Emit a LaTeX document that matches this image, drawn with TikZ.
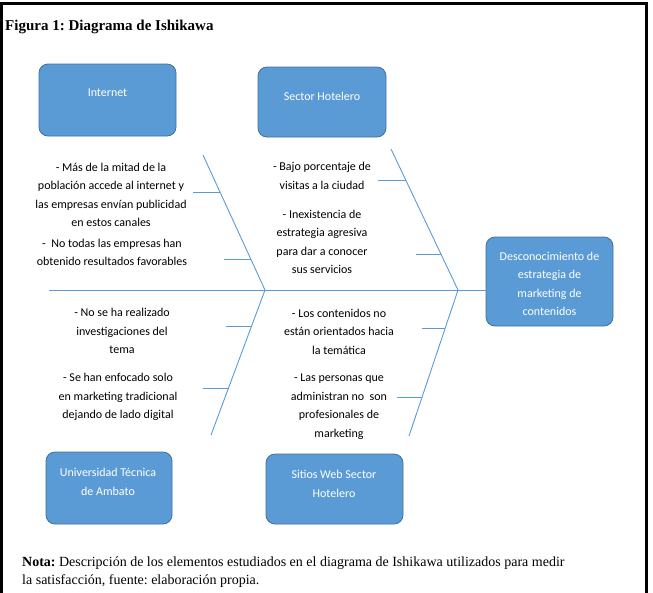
\documentclass[tikz,border=0pt]{standalone}
\usepackage{fontspec}
\setmainfont{Liberation Serif}
\newfontfamily\calfont{Carlito}
\definecolor{boxblue}{HTML}{5B9BD5}
\definecolor{boxedge}{HTML}{41719C}
\definecolor{bonecol}{HTML}{5B9BD5}
\frenchspacing
\begin{document}
\begin{tikzpicture}[x=1pt,y=-1pt,
  cbox/.style={draw=boxedge, fill=boxblue, rounded corners=9pt, line width=0.8pt, inner sep=0pt},
  ctext/.style={font=\calfont\fontsize{12}{18.5}\selectfont, align=center, text=black, inner sep=0pt},
  wtext/.style={font=\calfont\fontsize{12}{18.5}\selectfont, align=center, text=white, inner sep=0pt},
  boneline/.style={draw=bonecol, line width=0.9pt},
  frameline/.style={draw=black, line width=2.5pt},
]
\useasboundingbox (0,0) rectangle (653,592);
% frame
\draw[frameline] (1.5,600) -- (1.5,3.5) -- (646.5,3.5) -- (646.5,600);

% title
\node[anchor=west, inner sep=0pt, font=\bfseries\fontsize{15}{17}\selectfont] (title) at (5,27) {Figura 1: Diagrama de Ishikawa};

% category boxes
\node[cbox, minimum width=137pt, minimum height=72pt] (internet) at (107.5,100) {};
\node[wtext] (internetT) at (107.5,93) {Internet};
\node[cbox, minimum width=128pt, minimum height=70pt] (sector) at (322,102) {};
\node[wtext] (sectorT) at (322,96) {Sector Hotelero};
\node[cbox, minimum width=126pt, minimum height=72pt] (uta) at (109,488) {};
\node[wtext] (utaT) at (108,482) {Universidad Técnica\\de Ambato};
\node[cbox, minimum width=137pt, minimum height=70pt] (sitios) at (334.5,489) {};
\node[wtext] (sitiosT) at (334,484) {Sitios Web Sector\\Hotelero};
\node[cbox, minimum width=127pt, minimum height=89pt] (effect) at (549.5,281.5) {};
\node[wtext] (effectT) at (549.5,284) {Desconocimiento de\\estrategia de\\marketing de\\contenidos};

% spine and bones
\coordinate (spineL) at (49,290);
\coordinate (spineR) at (486,290);
\coordinate (ulTop) at (203,155);
\coordinate (ulFoot) at (265,290);
\coordinate (urTop) at (391,149);
\coordinate (urFoot) at (458,290);
\coordinate (llEnd) at (211,435);
\coordinate (lrEnd) at (409,436);
\draw[boneline] (spineL) -- (spineR);
\draw[boneline] (ulTop) -- (ulFoot) -- (llEnd);
\draw[boneline] (urTop) -- (urFoot) -- (lrEnd);

% ticks
\coordinate (t1a) at (193,192);   \coordinate (t1b) at (220,192);
\coordinate (t2a) at (224,259);   \coordinate (t2b) at (250.8,259);
\coordinate (t3a) at (378,180);   \coordinate (t3b) at (405.7,180);
\coordinate (t4a) at (416,254);   \coordinate (t4b) at (440.9,254);
\coordinate (t5a) at (226,326);   \coordinate (t5b) at (251.6,326);
\coordinate (t6a) at (203,388);   \coordinate (t6b) at (228.5,388);
\coordinate (t7a) at (422,328);   \coordinate (t7b) at (445.2,328);
\coordinate (t8a) at (397,397);   \coordinate (t8b) at (422.1,397);
\foreach \i in {1,...,8} {\draw[boneline] (t\i a) -- (t\i b);}

% cause texts
\node[ctext] (c1) at (111,195) {- Más de la mitad de la\\población accede al internet y\\las empresas envían publicidad\\en estos canales};
\node[ctext] (c2) at (112,252.5) {-\ \ No todas las empresas han\\obtenido resultados favorables};
\node[ctext] (c3) at (322,176) {- Bajo porcentaje de\\visitas a la ciudad};
\node[ctext] (c4) at (322,242) {- Inexistencia de\\estrategia agresiva\\para dar a conocer\\sus servicios};
\node[ctext] (c5) at (122,331) {- No se ha realizado\\investigaciones del\\tema};
\node[ctext] (c6) at (118,397) {- Se han enfocado solo\\en marketing tradicional\\dejando de lado digital};
\node[ctext] (c7) at (339,331.5) {- Los contenidos no\\están orientados hacia\\la temática};
\node[ctext] (c8) at (339,406.5) {- Las personas que\\administran no\ \ son\\profesionales de\\marketing};

% note
\node[anchor=west, align=left, inner sep=0pt, font=\fontsize{14}{18}\selectfont] (nota) at (22,572) {\textbf{Nota:} Descripción de los elementos estudiados en el diagrama de Ishikawa utilizados para medir\\la satisfacción, fuente: elaboración propia.};
\end{tikzpicture}
\end{document}
